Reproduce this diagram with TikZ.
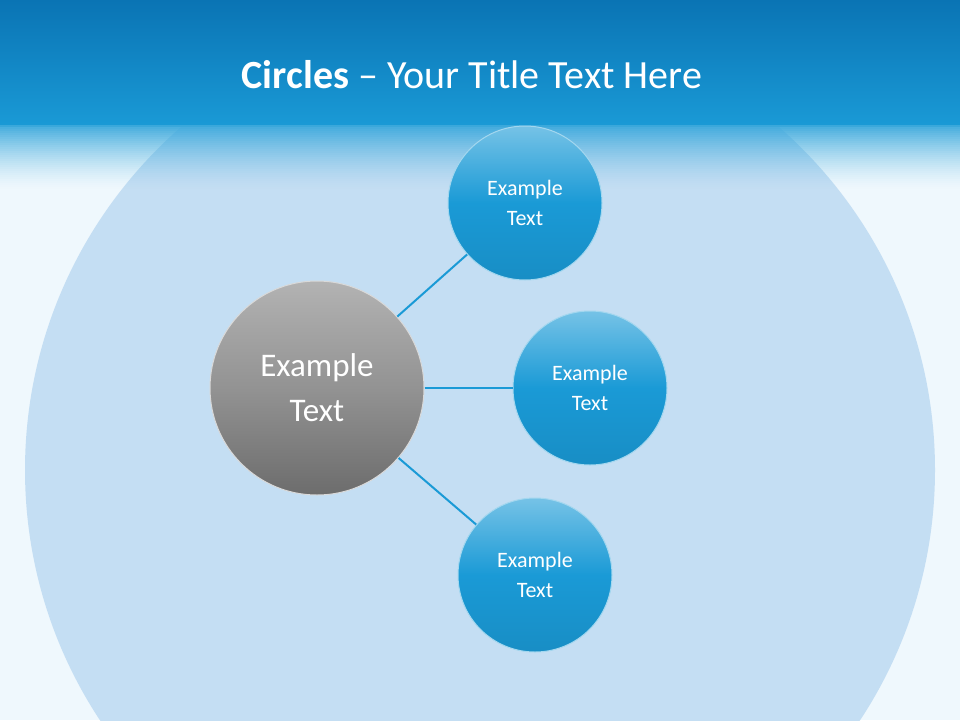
\documentclass[tikz,border=0pt]{standalone}
\usepackage{fontspec}
\setmainfont{Carlito}
\begin{document}
\begin{tikzpicture}[x=1pt,y=-1pt,
  blueball/.style={circle,minimum size=154pt,inner sep=0pt,align=center,text=white,font=\fontsize{22}{30}\selectfont,
    draw=white!60!hdr,line width=1pt,top color=hdr!60!white,bottom color=hdr!92!black,middle color=hdr},
  grayball/.style={circle,minimum size=214pt,inner sep=0pt,align=center,text=white,font=\fontsize{33}{45}\selectfont,
    draw=white!70!gray,line width=1pt,top color=gray!60,bottom color=gray!85!black,middle color=gray!85}]
\definecolor{hdr}{HTML}{1A9AD6}
\definecolor{hdrtop}{HTML}{0A74B4}
\definecolor{bgl}{HTML}{EFF8FD}
\definecolor{bigc}{HTML}{C4DEF3}
\tikzset{link/.style={draw=hdr,line width=2pt}}
\useasboundingbox (0,0) rectangle (960,720);
\fill[bgl] (0,0) rectangle (960,720);
\begin{scope}
\clip (0,0) rectangle (960,720);
\fill[bigc] (480,470) circle (455);
\end{scope}
\fill[top color=hdrtop,bottom color=hdr] (0,0) rectangle (960,126);
\foreach \i in {0,...,32} {
  \pgfmathsetmacro{\op}{0.95*(1-\i/32)^1.5}
  \fill[white!15!hdr,opacity=\op] (0,{125+2*\i}) rectangle (960,{127.2+2*\i});
}
\node[text=white,font=\fontsize{40}{48}\selectfont] (title) at (472,75) {\textbf{Circles} -- Your Title Text Here};
\node[grayball] (g) at (317,388) {Example\\Text};
\node[blueball] (b1) at (525,203) {Example\\Text};
\node[blueball] (b2) at (590,388) {Example\\Text};
\node[blueball] (b3) at (535,575) {Example\\Text};
\draw[link] (g) -- (b1);
\draw[link] (g) -- (b2);
\draw[link] (g) -- (b3);
\end{tikzpicture}
\end{document}
